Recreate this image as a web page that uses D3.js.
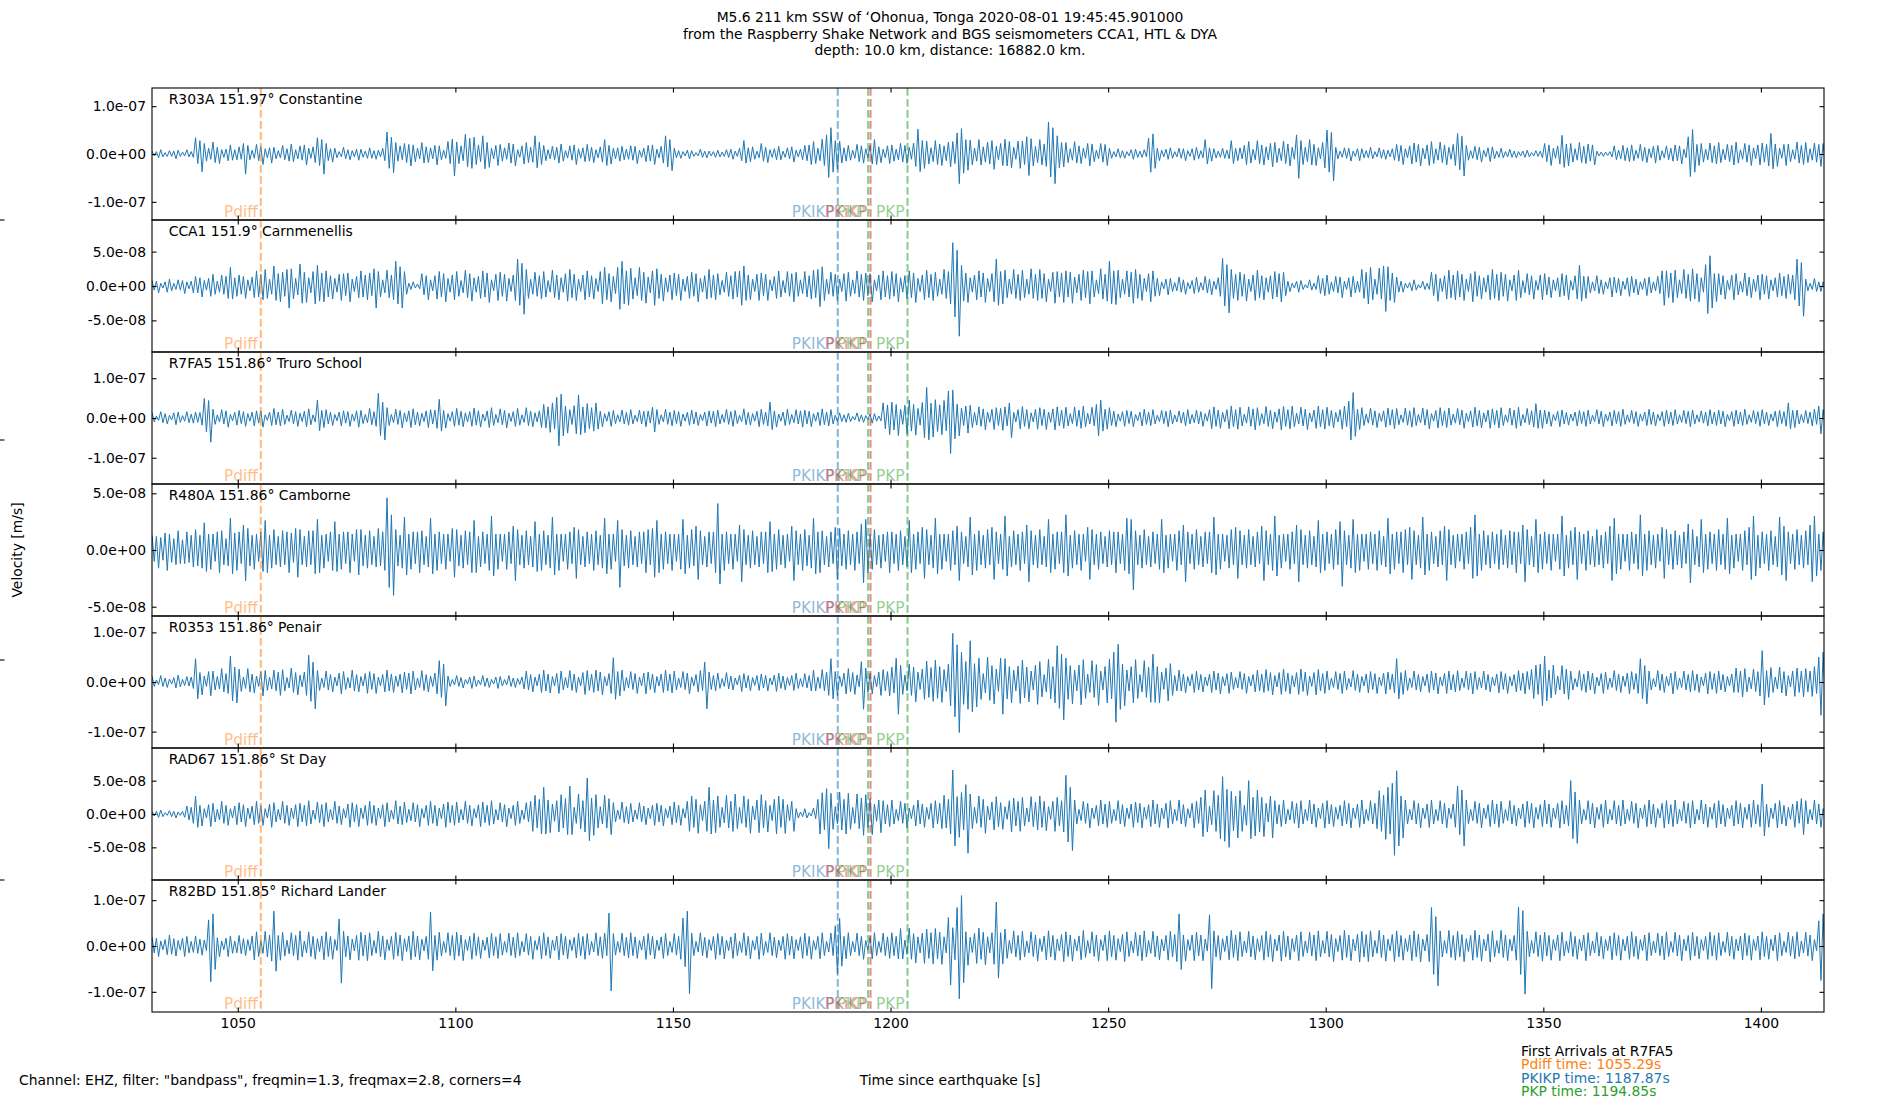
<!DOCTYPE html>
<html>
<head>
<meta charset="utf-8">
<script src="https://cdn.jsdelivr.net/npm/d3@7"></script>
<style>
  body { margin: 0; background: #fff; }
  text { font-family: "DejaVu Sans", sans-serif; }
</style>
</head>
<body>
<svg id="chart"></svg>
<script>
////////// Data
var timeWindow = [1030.29, 1414.5];            // s since earthquake
var xTicks = [1050, 1100, 1150, 1200, 1250, 1300, 1350, 1400];

var stationCodes = ["R303A", "CCA1", "R7FA5", "R480A", "R0353", "RAD67", "R82BD"];
var stationDist  = ["151.97°", "151.9°", "151.86°", "151.86°", "151.86°", "151.86°", "151.85°"];
var stationNames = ["Constantine", "Carnmenellis", "Truro School", "Camborne", "Penair", "St Day", "Richard Lander"];
var yLimit    = [1.38e-7, 9.6e-8, 1.66e-7, 5.82e-8, 1.33e-7, 9.9e-8, 1.44e-7];
var yTickStep = [1e-7, 5e-8, 1e-7, 5e-8, 1e-7, 5e-8, 1e-7];

var phaseNames = ["Pdiff", "PKIKP", "PKiKP", "PKP", "PKP"];
var phaseTimes = [1055.29, 1187.87, 1195.4, 1194.85, 1203.9];

var arrivalStation = "R7FA5";
var arrivalNames = ["Pdiff", "PKIKP", "PKP"];
var arrivalTimes = [1055.29, 1187.87, 1194.85];

// traces: successive up/down peaks, every half second, in nm/s (one line = 10 s)
var sampleStart = 1030.3, sampleStep = 0.5, ampUnit = 1e-9;

var traceR303A = [
6,-4,5,-8,9,-6,3,-5,7,-5,6,-10,8,-5,4,-4,9,-6,5,-7,
34,-20,28,-37,22,-15,12,-11,25,-18,14,-20,9,-7,10,-14,19,-13,9,-12,
15,-11,22,-42,18,-12,8,-9,20,-14,16,-22,11,-8,13,-19,14,-10,7,-8,
18,-12,11,-15,21,-16,9,-10,17,-13,19,-23,12,-9,15,-18,34,-24,30,-42,
22,-14,11,-17,12,-8,5,-6,14,-10,9,-12,7,-6,10,-13,10,-7,6,-9,
13,-9,7,-11,8,-6,12,-14,46,-30,35,-39,24,-15,17,-12,22,-18,20,-25,
19,-16,12,-10,24,-19,15,-18,13,-10,18,-23,17,-12,8,-9,26,-20,31,-46,
25,-20,17,-14,41,-27,33,-30,35,-22,19,-16,38,-31,24,-28,12,-10,18,-24,
20,-15,13,-11,23,-19,21,-25,9,-7,17,-21,24,-18,14,-17,38,-29,25,-22,
18,-14,9,-10,16,-12,14,-19,21,-15,7,-8,17,-13,19,-22,11,-9,13,-16,
20,-15,14,-18,9,-8,15,-17,30,-24,18,-21,12,-10,13,-15,16,-12,10,-11,
17,-13,16,-20,8,-7,12,-16,18,-15,19,-22,10,-8,16,-19,38,-27,30,-35,
12,-8,7,-9,5,-4,8,-10,7,-5,3,-4,10,-7,6,-8,6,-4,5,-7,
8,-6,4,-5,9,-7,10,-11,6,-5,12,-14,28,-19,13,-16,15,-11,6,-8,
22,-15,14,-18,9,-7,11,-12,16,-12,6,-7,13,-10,15,-17,8,-6,10,-12,
18,-14,19,-22,26,-20,12,-14,31,-24,40,-49,55,-38,28,-32,27,-19,13,-15,
18,-13,8,-9,20,-16,17,-19,11,-8,18,-21,30,-22,15,-18,10,-8,17,-20,
19,-15,10,-12,22,-17,18,-20,14,-11,23,-26,52,-37,28,-30,27,-21,13,-16,
28,-22,21,-24,17,-14,25,-27,26,-20,44,-62,53,-40,30,-34,29,-23,12,-15,
30,-23,15,-17,25,-21,28,-32,16,-12,22,-24,31,-25,26,-29,14,-11,27,-30,
27,-22,36,-45,32,-25,16,-18,30,-23,21,-26,67,-48,55,-62,38,-29,24,-27,
24,-18,11,-13,26,-19,17,-20,12,-9,22,-25,21,-16,8,-10,22,-17,20,-24,
12,-9,5,-6,11,-8,7,-9,5,-4,9,-11,10,-7,6,-7,9,-6,33,-38,
42,-30,12,-14,8,-6,10,-11,13,-9,5,-6,12,-9,11,-14,7,-5,11,-13,
14,-10,7,-8,30,-21,13,-15,11,-8,6,-7,12,-9,8,-10,28,-20,12,-14,
13,-10,18,-22,26,-19,10,-12,28,-20,19,-23,15,-12,22,-27,24,-18,12,-14,
27,-20,21,-25,14,-11,40,-51,28,-22,14,-16,30,-23,20,-24,13,-10,24,-29,
50,-38,45,-56,14,-10,6,-7,13,-9,12,-15,6,-5,11,-14,11,-8,7,-8,
14,-10,5,-6,13,-9,9,-11,8,-6,11,-13,20,-15,18,-22,11,-8,17,-21,
23,-17,20,-25,12,-10,19,-24,26,-20,11,-13,25,-18,19,-23,14,-11,20,-24,
43,-33,37,-46,18,-13,7,-9,16,-12,14,-17,8,-6,13,-16,15,-10,6,-7,
12,-8,5,-6,10,-7,6,-8,5,-4,6,-7,8,-6,3,-4,7,-5,6,-8,
22,-16,19,-24,12,-9,17,-21,39,-28,21,-25,22,-17,11,-13,24,-18,16,-20,
21,-15,19,-23,6,-4,4,-5,4,-3,5,-6,17,-12,8,-10,18,-14,13,-16,
19,-14,8,-9,20,-15,14,-18,11,-8,16,-19,18,-13,7,-8,17,-12,12,-15,
19,-14,17,-21,10,-8,36,-47,51,-38,20,-24,22,-17,10,-12,23,-18,17,-21,
24,-18,10,-12,20,-16,18,-23,25,-19,9,-11,22,-17,19,-24,13,-10,19,-23,
23,-17,20,-25,43,-31,21,-26,12,-9,20,-24,21,-16,9,-11,25,-19,18,-22,
24,-18,11,-13,23,-17,20,-26,22,-16];

var traceCCA1 = [
8,-6,7,-10,4,-3,6,-9,10,-7,4,-5,9,-6,8,-11,6,-4,7,-10,
14,-10,12,-16,8,-6,11,-15,17,-12,7,-9,16,-12,14,-18,27,-19,12,-15,
16,-12,14,-18,9,-7,13,-17,22,-16,17,-20,24,-18,10,-12,29,-21,18,-23,
20,-15,24,-32,25,-19,11,-13,32,-25,20,-24,12,-10,21,-26,30,-22,19,-23,
22,-16,15,-19,11,-9,17,-21,18,-14,19,-23,10,-8,14,-17,22,-16,16,-20,
19,-14,25,-32,21,-16,9,-10,23,-17,16,-20,36,-26,28,-32,21,-12,4,-5,
6,-3,3,-4,18,-13,15,-20,9,-7,15,-19,21,-16,18,-23,11,-9,16,-20,
21,-15,8,-10,23,-17,18,-22,12,-9,14,-18,22,-16,19,-24,9,-7,17,-21,
20,-15,17,-22,11,-8,16,-21,39,-28,33,-41,24,-18,10,-12,20,-15,15,-19,
21,-16,8,-9,23,-17,16,-20,12,-9,18,-22,24,-17,17,-21,10,-8,16,-20,
22,-16,15,-19,11,-8,21,-26,27,-20,18,-23,14,-11,27,-34,36,-26,22,-28,
26,-19,12,-14,27,-21,20,-25,13,-10,22,-28,25,-18,17,-22,12,-9,16,-20,
19,-14,17,-21,10,-8,14,-18,20,-15,18,-23,11,-9,15,-19,24,-17,16,-20,
18,-13,8,-9,20,-15,15,-19,21,-16,22,-28,29,-21,16,-20,10,-8,17,-21,
19,-14,17,-21,9,-7,14,-18,22,-16,8,-10,21,-15,18,-23,20,-15,9,-11,
21,-16,15,-19,23,-17,24,-30,28,-21,10,-12,20,-15,17,-21,10,-8,18,-22,
20,-15,9,-11,22,-16,17,-21,19,-14,18,-23,9,-7,16,-20,22,-16,15,-19,
21,-15,18,-23,12,-9,15,-19,22,-17,19,-24,11,-8,16,-20,23,-17,17,-21,
20,-15,10,-12,24,-18,21,-26,63,-45,52,-73,30,-22,19,-24,12,-9,16,-20,
22,-16,19,-24,11,-8,18,-23,39,-28,21,-26,23,-17,10,-12,24,-18,17,-21,
23,-17,10,-12,25,-18,17,-21,24,-18,18,-23,10,-8,20,-25,21,-16,19,-24,
22,-16,20,-25,13,-10,17,-21,23,-17,21,-26,22,-16,9,-11,25,-19,17,-22,
36,-26,22,-27,23,-17,10,-12,22,-16,20,-25,24,-18,17,-21,11,-8,18,-23,
22,-15,11,-14,6,-4,10,-13,11,-8,5,-7,13,-9,9,-12,5,-4,8,-11,
13,-9,5,-6,14,-10,10,-13,7,-5,12,-15,40,-29,31,-39,24,-18,17,-21,
20,-15,17,-22,10,-8,16,-21,23,-17,15,-20,12,-9,15,-19,21,-16,18,-23,
20,-14,7,-8,4,-3,7,-9,8,-5,2,-3,9,-6,4,-5,15,-11,11,-14,
16,-12,6,-8,14,-10,13,-17,7,-5,12,-16,14,-10,7,-9,24,-18,20,-26,
27,-20,10,-12,26,-19,29,-37,28,-21,19,-24,13,-9,7,-9,4,-3,5,-7,
9,-6,2,-3,7,-5,4,-5,20,-14,17,-22,11,-8,15,-19,23,-17,16,-20,
22,-16,17,-21,10,-8,18,-23,21,-15,15,-19,12,-9,16,-20,24,-18,17,-21,
20,-15,17,-22,9,-7,16,-21,23,-17,8,-10,18,-13,15,-19,8,-6,16,-20,
18,-13,13,-17,9,-7,12,-16,18,-14,16,-20,8,-6,15,-19,30,-22,14,-18,
14,-10,6,-7,15,-11,9,-12,6,-4,12,-16,13,-10,11,-14,7,-5,12,-15,
14,-10,10,-13,6,-5,11,-14,13,-10,6,-7,14,-11,22,-28,22,-17,19,-24,
23,-17,9,-11,24,-18,17,-22,25,-19,18,-23,12,-9,31,-40,44,-32,18,-23,
18,-13,15,-19,8,-6,16,-20,18,-13,7,-9,19,-14,13,-17,10,-8,16,-20,
17,-12,15,-19,9,-7,12,-16,19,-14,14,-18,17,-12,16,-20,39,-29,34,-44,
10,-7,4,-5,11,-8,6,-8,6,-4];

var traceR7FA5 = [
14,-10,5,-6,16,-12,11,-15,7,-5,13,-17,15,-11,6,-8,16,-12,10,-13,
15,-11,14,-18,49,-35,44,-61,22,-16,8,-10,21,-15,18,-23,9,-7,14,-18,
19,-14,16,-21,11,-8,15,-20,18,-13,18,-23,8,-6,15,-19,24,-17,15,-20,
22,-16,7,-9,20,-15,16,-21,12,-9,17,-22,23,-17,8,-10,45,-32,19,-24,
21,-15,15,-19,9,-7,15,-20,18,-13,16,-21,10,-8,18,-23,19,-14,9,-12,
24,-17,16,-21,62,-44,40,-55,26,-19,9,-12,22,-16,19,-25,13,-10,18,-24,
23,-17,15,-20,12,-9,18,-24,21,-15,20,-26,47,-33,19,-25,11,-8,16,-21,
24,-18,17,-22,13,-10,16,-21,25,-18,18,-23,10,-8,18,-24,26,-19,9,-12,
23,-17,19,-25,12,-9,16,-21,24,-18,8,-11,26,-19,17,-22,13,-10,18,-24,
34,-25,28,-36,38,-28,52,-70,60,-45,30,-38,21,-16,31,-40,58,-42,28,-37,
36,-27,26,-33,38,-28,17,-22,11,-8,16,-21,19,-14,8,-10,20,-15,14,-18,
21,-15,7,-9,20,-15,17,-22,18,-13,27,-35,21,-16,8,-10,22,-16,15,-20,
19,-14,16,-21,10,-8,14,-18,20,-15,15,-19,9,-7,15,-20,18,-13,17,-22,
20,-15,9,-11,22,-16,16,-21,19,-14,7,-9,23,-17,14,-18,11,-8,17,-22,
22,-16,15,-20,40,-29,18,-23,10,-8,15,-19,22,-16,9,-12,21,-15,18,-23,
20,-15,17,-22,11,-8,15,-19,23,-17,15,-20,21,-15,7,-9,13,-9,8,-11,
12,-9,4,-5,13,-9,8,-11,6,-4,10,-13,11,-8,5,-7,38,-27,33,-42,
40,-30,34,-44,22,-16,32,-41,45,-33,34,-43,24,-18,39,-50,77,-55,37,-48,
46,-34,33,-42,44,-32,68,-89,70,-52,35,-45,25,-19,30,-38,32,-24,14,-18,
28,-21,23,-30,15,-11,22,-29,26,-19,24,-31,28,-20,38,-50,14,-10,21,-27,
29,-21,21,-27,13,-10,22,-28,26,-19,22,-29,15,-11,23,-30,28,-20,20,-26,
27,-20,11,-14,28,-21,20,-26,30,-22,12,-15,27,-20,34,-45,45,-33,22,-28,
26,-19,17,-22,10,-8,16,-21,19,-14,17,-22,9,-7,15,-20,22,-16,15,-19,
21,-15,7,-9,19,-14,17,-22,20,-15,8,-10,18,-13,15,-20,21,-15,9,-12,
20,-15,16,-21,11,-8,21,-27,28,-21,20,-26,14,-10,21,-27,30,-22,21,-28,
27,-20,10,-13,28,-21,23,-30,26,-19,11,-14,29,-21,20,-27,15,-11,23,-30,
29,-21,21,-27,30,-22,12,-15,27,-20,22,-29,13,-10,20,-26,30,-22,21,-28,
27,-20,19,-25,14,-10,21,-28,30,-22,42,-55,64,-46,22,-29,26,-19,10,-13,
25,-18,18,-24,12,-9,18,-23,25,-18,21,-27,24,-17,8,-11,25,-18,18,-23,
26,-19,9,-12,25,-18,21,-27,11,-8,19,-25,26,-19,18,-24,25,-18,10,-13,
24,-17,20,-26,12,-9,18,-23,27,-20,19,-25,13,-10,20,-26,23,-17,19,-25,
26,-19,8,-11,25,-18,20,-26,27,-20,9,-12,24,-17,18,-23,36,-26,20,-26,
20,-15,16,-21,9,-7,17,-22,20,-15,14,-18,10,-8,15,-20,19,-14,16,-21,
20,-15,7,-9,21,-15,17,-22,10,-8,15,-20,19,-14,16,-21,22,-16,8,-11,
19,-14,16,-21,10,-8,15,-19,22,-16,15,-20,9,-7,16,-21,20,-15,15,-19,
21,-15,8,-11,19,-14,17,-22,20,-15,8,-10,18,-13,15,-20,21,-15,15,-19,
20,-15,17,-22,9,-7,16,-21,20,-15,15,-19,22,-16,8,-11,19,-14,16,-21,
21,-15,15,-19,10,-8,17,-22,19,-14,16,-21,38,-27,19,-24,20,-15,9,-12,
19,-14,15,-20,22,-16,30,-40,21,-15];

var traceR480A = [
13,-10,12,-16,11,-9,15,-18,14,-11,10,-13,17,-12,9,-12,16,-11,13,-15,
18,-14,13,-16,24,-19,14,-17,14,-10,16,-20,17,-13,10,-14,28,-21,15,-18,
16,-12,22,-27,19,-14,13,-17,14,-10,16,-19,26,-20,13,-16,18,-13,12,-15,
17,-13,16,-20,15,-11,19,-24,18,-13,12,-15,17,-13,17,-21,27,-20,13,-16,
14,-10,16,-18,25,-19,14,-17,16,-12,16,-20,14,-10,18,-22,18,-14,13,-16,
17,-13,12,-15,19,-14,16,-18,46,-33,31,-40,18,-14,13,-16,29,-22,14,-17,
16,-12,16,-20,17,-13,12,-15,28,-21,14,-18,16,-12,14,-17,14,-10,19,-24,
18,-14,13,-16,17,-13,16,-20,26,-20,12,-15,16,-12,14,-18,30,-23,14,-17,
14,-10,14,-17,16,-12,21,-27,18,-13,13,-16,17,-13,12,-15,25,-19,14,-18,
17,-13,13,-16,29,-22,14,-18,14,-10,14,-17,16,-12,20,-25,18,-13,12,-15,
16,-12,14,-18,17,-13,13,-16,28,-21,14,-17,14,-10,26,-33,18,-14,13,-16,
17,-13,12,-15,16,-12,16,-20,18,-13,19,-24,26,-20,14,-17,16,-12,14,-18,
14,-10,14,-17,27,-21,13,-16,18,-14,21,-26,17,-13,12,-15,16,-12,16,-20,
41,-30,14,-18,16,-12,14,-17,14,-10,22,-28,18,-13,13,-16,17,-13,12,-15,
16,-12,16,-20,25,-19,14,-17,18,-13,13,-16,14,-10,21,-27,17,-13,14,-18,
18,-14,13,-16,28,-21,16,-20,17,-13,12,-15,16,-12,20,-26,19,-14,14,-17,
17,-13,14,-18,16,-12,23,-29,27,-20,14,-17,18,-13,13,-16,14,-10,16,-20,
16,-12,14,-18,17,-13,12,-15,26,-20,14,-17,16,-12,20,-25,18,-13,13,-16,
28,-21,14,-17,14,-10,14,-18,17,-13,21,-27,16,-12,12,-15,29,-22,14,-18,
17,-13,13,-16,18,-13,20,-26,16,-12,14,-17,30,-23,12,-15,17,-13,14,-18,
16,-12,22,-28,17,-13,13,-16,18,-13,12,-15,27,-20,14,-17,16,-12,16,-20,
31,-23,13,-16,17,-13,14,-18,14,-10,20,-26,18,-13,14,-17,16,-12,12,-15,
17,-13,16,-20,16,-12,14,-18,28,-21,27,-35,17,-13,13,-16,18,-13,12,-15,
16,-12,14,-17,27,-20,13,-16,14,-10,14,-18,17,-13,22,-28,16,-12,14,-17,
18,-13,12,-15,16,-12,16,-20,29,-22,14,-17,14,-10,13,-16,18,-13,20,-25,
17,-13,13,-16,18,-13,12,-15,16,-12,21,-27,17,-13,14,-18,30,-23,13,-16,
14,-10,14,-17,16,-12,22,-28,18,-13,13,-16,17,-13,12,-15,26,-20,14,-18,
16,-12,14,-17,18,-13,25,-32,17,-13,13,-16,27,-20,14,-18,14,-10,14,-17,
16,-12,14,-18,17,-13,12,-15,28,-21,14,-17,16,-12,16,-20,18,-13,20,-26,
17,-13,13,-16,29,-22,14,-18,16,-12,12,-15,17,-13,21,-27,18,-13,13,-16,
14,-10,14,-17,16,-12,20,-25,31,-23,14,-18,17,-13,13,-16,16,-12,14,-17,
18,-13,13,-16,17,-13,16,-20,16,-12,22,-28,18,-13,12,-15,27,-20,14,-17,
16,-12,14,-18,14,-10,14,-17,30,-23,13,-16,17,-13,20,-26,16,-12,14,-18,
17,-13,12,-15,18,-13,13,-16,16,-12,21,-27,28,-21,14,-17,14,-10,14,-18,
16,-12,14,-17,31,-23,14,-18,17,-13,13,-16,14,-10,20,-25,18,-13,14,-17,
17,-13,13,-16,16,-12,23,-29,18,-13,12,-15,27,-20,14,-17,16,-12,14,-18,
18,-13,14,-17,28,-21,13,-16,14,-10,14,-18,17,-13,20,-26,30,-23,13,-16,
16,-12,14,-18,17,-13,12,-15,29,-22,21,-27,16,-12,14,-17,18,-13,13,-16,
17,-13,22,-28,30,-23,14,-18,16,-12];

var traceR0353 = [
12,-9,4,-5,13,-9,8,-11,6,-4,9,-12,14,-10,5,-7,11,-8,10,-13,
47,-34,19,-26,12,-9,21,-28,22,-16,11,-14,27,-20,17,-23,52,-38,30,-42,
26,-19,10,-13,27,-20,16,-22,12,-9,21,-28,23,-17,10,-14,24,-18,20,-27,
25,-18,9,-12,28,-21,19,-26,14,-10,20,-27,54,-39,40,-54,23,-17,8,-11,
22,-16,15,-20,10,-8,18,-24,21,-15,9,-12,24,-18,15,-20,11,-8,17,-23,
21,-15,17,-23,10,-8,15,-20,24,-18,16,-21,12,-9,16,-22,20,-15,18,-24,
22,-16,8,-11,23,-17,15,-20,12,-9,18,-24,43,-31,36,-48,12,-9,5,-6,
13,-9,9,-12,5,-4,10,-13,12,-9,4,-6,13,-9,8,-11,5,-4,10,-13,
11,-8,5,-6,13,-9,8,-11,7,-5,10,-14,22,-16,15,-20,10,-8,16,-21,
24,-18,16,-22,11,-8,17,-23,22,-16,9,-12,23,-17,16,-21,10,-8,19,-25,
23,-17,16,-21,24,-18,20,-26,11,-8,17,-23,49,-35,21,-28,24,-18,9,-12,
21,-15,17,-23,10,-8,18,-24,20,-15,16,-22,11,-8,16,-21,24,-18,16,-22,
22,-16,8,-11,21,-15,18,-24,10,-8,15,-20,23,-17,40,-54,20,-15,13,-18,
18,-13,7,-9,19,-14,12,-16,8,-6,14,-19,17,-12,13,-18,9,-7,13,-17,
16,-12,13,-18,8,-6,14,-19,18,-13,12,-16,9,-7,13,-17,18,-13,7,-10,
17,-12,13,-18,24,-18,10,-13,25,-18,20,-27,47,-34,21,-28,12,-9,18,-24,
27,-20,19,-25,14,-10,41,-55,28,-21,18,-24,13,-10,20,-27,25,-18,21,-28,
30,-22,48,-65,34,-25,14,-18,36,-27,30,-40,20,-15,26,-35,42,-31,29,-39,
44,-33,31,-41,25,-19,36,-48,98,-70,75,-102,60,-45,41,-55,83,-60,37,-50,
48,-35,17,-22,50,-37,33,-44,26,-19,48,-65,47,-34,31,-42,24,-18,32,-43,
44,-32,30,-40,22,-16,34,-45,41,-30,15,-20,46,-34,31,-42,73,-53,56,-76,
48,-35,33,-44,24,-18,34,-46,45,-33,16,-21,43,-31,35,-47,22,-16,31,-42,
46,-34,60,-81,76,-55,36,-48,24,-18,31,-42,45,-33,15,-20,43,-31,30,-41,
56,-41,31,-42,20,-15,28,-38,37,-27,13,-18,24,-18,16,-22,11,-8,16,-21,
22,-16,15,-20,10,-8,16,-21,22,-16,18,-24,11,-8,17,-23,20,-15,9,-12,
21,-15,17,-23,11,-8,15,-20,24,-18,16,-21,25,-18,19,-26,13,-10,19,-25,
26,-19,18,-24,13,-10,19,-25,26,-19,20,-27,12,-9,19,-26,25,-18,17,-23,
22,-16,8,-11,21,-15,17,-23,22,-16,7,-10,23,-17,16,-21,11,-8,16,-22,
21,-15,17,-23,10,-8,18,-24,20,-15,16,-22,47,-34,19,-25,23,-17,8,-11,
22,-16,15,-20,11,-8,16,-21,22,-16,18,-24,10,-8,17,-23,22,-16,15,-20,
23,-17,8,-11,22,-16,18,-24,21,-15,9,-12,22,-16,15,-20,10,-8,16,-22,
21,-15,17,-23,11,-8,15,-20,23,-17,18,-24,21,-15,25,-33,34,-25,36,-48,
52,-38,24,-32,34,-25,12,-16,33,-24,26,-35,22,-16,7,-10,23,-17,16,-21,
22,-16,18,-24,10,-8,17,-23,20,-15,8,-11,23,-17,16,-21,12,-9,18,-24,
21,-15,17,-23,47,-34,33,-44,22,-16,7,-10,23,-17,16,-21,11,-8,18,-24,
21,-15,8,-11,22,-16,15,-20,23,-17,16,-21,10,-8,18,-24,21,-15,17,-23,
22,-16,15,-20,11,-8,16,-21,28,-21,22,-30,27,-20,10,-14,26,-19,21,-28,
63,-46,23,-31,29,-21,10,-14,30,-22,21,-28,13,-10,22,-29,28,-21,22,-30,
27,-20,22,-29,31,-23,50,-67,60,-44];

var traceRAD67 = [
4,-3,4,-5,6,-4,2,-2,5,-4,4,-6,3,-2,4,-5,12,-9,10,-14,
27,-20,13,-18,8,-6,14,-19,16,-12,7,-9,19,-14,13,-17,8,-6,12,-16,
17,-12,14,-19,9,-7,12,-16,19,-14,13,-17,8,-6,15,-20,17,-12,7,-9,
19,-14,13,-17,9,-7,14,-19,16,-12,13,-18,20,-15,6,-8,18,-13,14,-19,
17,-12,7,-9,19,-14,12,-16,8,-6,15,-20,17,-12,14,-19,9,-7,13,-17,
19,-14,13,-17,9,-7,14,-19,17,-12,6,-8,20,-15,12,-16,18,-13,7,-10,
17,-12,14,-19,8,-6,13,-17,19,-14,13,-18,9,-7,15,-20,18,-13,13,-17,
18,-13,7,-9,19,-14,13,-18,8,-6,14,-19,18,-13,13,-17,20,-15,7,-9,
17,-12,14,-19,9,-7,13,-17,19,-14,6,-8,17,-12,19,-26,28,-21,22,-30,
40,-30,21,-28,15,-11,20,-27,29,-21,23,-31,42,-31,10,-14,30,-22,20,-27,
54,-40,24,-32,29,-21,11,-15,28,-21,23,-31,17,-12,6,-8,18,-13,11,-15,
16,-12,6,-8,17,-12,12,-16,9,-7,13,-17,16,-12,13,-18,8,-6,12,-16,
18,-13,13,-17,8,-6,19,-26,27,-20,22,-29,14,-10,19,-26,40,-30,21,-28,
27,-20,10,-13,28,-21,19,-26,30,-22,10,-14,27,-20,22,-29,12,-9,21,-28,
29,-21,20,-27,13,-10,22,-30,27,-20,22,-29,14,-10,19,-26,8,-6,3,-4,
8,-6,2,-3,9,-7,22,-30,32,-24,38,-52,31,-23,11,-15,33,-24,22,-30,
31,-23,10,-14,30,-22,24,-32,29,-21,23,-31,15,-11,21,-28,20,-15,14,-19,
21,-15,7,-10,19,-14,16,-21,9,-7,13,-18,21,-15,15,-20,10,-8,16,-21,
20,-15,16,-22,28,-21,22,-30,66,-48,26,-35,32,-24,44,-59,30,-22,10,-14,
27,-20,22,-29,12,-9,18,-24,26,-19,17,-23,11,-8,20,-27,24,-18,19,-26,
25,-18,9,-12,26,-19,18,-24,27,-20,19,-25,11,-8,19,-26,25,-18,20,-27,
58,-42,40,-55,21,-15,7,-10,19,-14,16,-21,9,-7,13,-18,21,-15,15,-20,
19,-14,7,-10,20,-15,14,-19,9,-7,15,-20,18,-13,16,-21,10,-8,14,-19,
21,-15,15,-20,9,-7,16,-21,20,-15,7,-10,21,-15,14,-19,8,-6,16,-21,
19,-14,25,-34,36,-27,12,-16,35,-26,28,-37,56,-41,37,-50,34,-25,27,-36,
35,-26,13,-17,50,-37,25,-33,36,-27,25,-34,16,-12,27,-36,20,-15,14,-19,
21,-15,7,-9,19,-14,16,-21,20,-15,7,-10,21,-15,15,-20,9,-7,16,-21,
20,-15,14,-19,10,-8,13,-18,20,-15,16,-21,9,-7,15,-20,21,-15,7,-10,
20,-15,16,-22,35,-26,28,-38,40,-30,46,-62,65,-48,27,-36,21,-15,7,-9,
20,-15,16,-21,9,-7,15,-20,21,-15,7,-10,20,-15,16,-21,9,-7,15,-20,
42,-31,36,-48,21,-15,7,-10,19,-14,16,-21,9,-7,14,-19,21,-15,15,-20,
19,-14,7,-10,20,-15,13,-18,9,-7,15,-20,19,-14,16,-21,10,-8,14,-19,
21,-15,15,-20,9,-7,16,-21,20,-15,13,-18,50,-37,33,-44,21,-15,7,-9,
20,-15,16,-21,10,-8,15,-20,21,-15,7,-9,20,-15,13,-18,21,-15,7,-10,
19,-14,16,-21,9,-7,14,-19,21,-15,15,-20,8,-6,16,-21,20,-15,14,-19,
21,-15,7,-10,19,-14,16,-21,20,-15,7,-9,21,-15,15,-20,10,-8,16,-21,
20,-15,14,-19,9,-7,13,-18,20,-15,16,-21,10,-8,15,-20,21,-15,14,-19,
45,-33,15,-20,9,-7,16,-21,20,-15,13,-18,10,-8,15,-20,19,-14,23,-31,
20,-15,7,-9,21,-15,15,-20,8,-6];

var traceR82BD = [
20,-15,17,-23,11,-8,14,-19,24,-18,16,-22,12,-9,17,-23,21,-15,10,-14,
22,-16,15,-20,13,-10,57,-78,70,-51,18,-24,11,-8,17,-23,22,-16,11,-15,
23,-17,16,-21,14,-10,22,-30,31,-23,12,-16,32,-24,24,-33,76,-55,23,-31,
30,-22,13,-17,29,-21,23,-31,33,-24,11,-15,31,-23,21,-29,16,-12,22,-30,
31,-23,21,-29,14,-10,59,-81,32,-24,22,-30,15,-11,23,-31,30,-22,24,-32,
29,-21,12,-16,32,-24,22,-30,14,-10,21,-29,30,-22,24,-32,16,-12,22,-30,
32,-24,22,-30,15,-11,21,-29,74,-54,23,-31,30,-22,10,-14,29,-21,23,-31,
30,-22,24,-32,14,-10,21,-29,28,-21,20,-27,13,-10,19,-26,28,-21,20,-27,
27,-20,10,-14,28,-21,19,-26,29,-21,10,-13,27,-20,21,-29,12,-9,21,-28,
29,-21,20,-27,13,-10,22,-30,27,-20,21,-28,14,-10,19,-26,28,-21,21,-29,
27,-20,10,-13,29,-21,20,-27,28,-21,72,-98,27,-20,10,-14,28,-21,19,-26,
29,-21,20,-27,12,-9,21,-29,27,-20,21,-28,13,-10,20,-27,28,-21,10,-14,
27,-20,21,-29,61,-45,76,-104,28,-21,10,-13,29,-21,19,-26,14,-10,21,-29,
27,-20,21,-28,13,-10,20,-27,28,-21,10,-14,29,-21,21,-28,12,-9,21,-29,
28,-21,10,-14,29,-21,19,-26,13,-10,21,-29,27,-20,21,-28,14,-10,20,-27,
28,-21,21,-29,12,-9,21,-28,29,-21,10,-13,28,-21,44,-60,60,-44,21,-28,
29,-21,10,-13,28,-21,21,-29,12,-9,21,-28,29,-21,10,-14,28,-21,20,-27,
29,-21,21,-28,38,-28,13,-18,39,-29,27,-37,20,-15,28,-38,37,-27,29,-39,
38,-28,30,-40,20,-15,62,-85,40,-30,84,-115,110,-80,31,-42,19,-14,28,-38,
39,-29,30,-41,20,-15,29,-40,96,-70,29,-39,37,-27,12,-16,33,-24,23,-31,
32,-24,11,-15,31,-23,24,-33,16,-12,22,-30,33,-24,23,-31,15,-11,25,-34,
31,-23,24,-33,15,-11,22,-30,34,-25,12,-16,31,-23,24,-33,14,-10,24,-32,
33,-24,23,-31,16,-12,25,-34,31,-23,11,-15,30,-22,24,-32,33,-24,12,-16,
32,-24,22,-30,15,-11,23,-31,32,-24,25,-34,70,-51,24,-33,14,-10,24,-32,
30,-22,24,-32,15,-11,68,-93,33,-24,23,-31,16,-12,22,-30,34,-25,24,-32,
31,-23,11,-15,32,-24,22,-30,16,-12,23,-31,32,-24,25,-34,15,-11,24,-33,
32,-24,22,-30,16,-12,24,-32,31,-23,11,-15,30,-22,24,-32,33,-24,12,-16,
32,-24,25,-34,16,-12,23,-31,34,-25,24,-32,15,-11,26,-35,32,-24,25,-34,
33,-24,12,-16,34,-25,24,-33,15,-11,25,-34,33,-24,23,-31,16,-12,24,-32,
33,-24,26,-35,15,-11,25,-34,84,-62,64,-87,33,-24,12,-16,34,-25,23,-31,
32,-24,25,-34,16,-12,23,-31,34,-25,24,-33,15,-11,26,-35,33,-24,12,-16,
34,-25,24,-32,15,-11,23,-31,85,-62,77,-105,32,-24,12,-16,31,-23,24,-33,
30,-22,23,-31,14,-10,24,-32,30,-22,11,-15,31,-23,21,-29,15,-11,24,-32,
29,-21,11,-15,30,-22,21,-28,14,-10,22,-30,29,-21,23,-31,15,-11,21,-29,
31,-23,21,-29,14,-10,24,-32,29,-21,11,-15,28,-21,22,-30,31,-23,10,-14,
30,-22,24,-32,15,-11,23,-31,30,-22,21,-28,14,-10,21,-29,30,-22,23,-31,
29,-21,10,-14,30,-22,21,-29,15,-11,22,-30,28,-21,23,-31,14,-10,22,-30,
31,-23,21,-29,15,-11,24,-32,29,-21,10,-14,30,-22,21,-28,31,-23,11,-15,
30,-22,24,-32,14,-10,55,-75,70,-51];

var traces = [traceR303A, traceCCA1, traceR7FA5, traceR480A, traceR0353, traceRAD67, traceR82BD];

////////// Styles
var phaseColour = { "Pdiff": "#ff7f0e", "PKIKP": "#1f77b4", "PKiKP": "#d62728", "PKP": "#2ca02c" };
var traceColour = "#1f77b4";
var fontSize = 13.9;

var W = 1900, H = 1100;
var margin = { left: 152, right: 76, top: 88, bottom: 88 };
var nPanels = traces.length;
var panelH = (H - margin.top - margin.bottom) / nPanels;

var svg = d3.select("#chart").attr("width", W).attr("height", H);

var x = d3.scaleLinear().domain(timeWindow).range([margin.left, W - margin.right]);

// "%.1e" like matplotlib
function sci(v) {
  return v.toExponential(1).replace(/e([+-])(\d)$/, "e$10$2");
}

function styleAxis(g) {
  g.select(".domain").remove();
  g.attr("font-family", null).attr("font-size", null);
  g.selectAll(".tick line").attr("stroke", "#000").attr("stroke-width", 1.1);
  g.selectAll(".tick text").attr("fill", "#000")
    .style("font-size", fontSize + "px").style("font-family", "'DejaVu Sans', sans-serif");
}

for (var i = 0; i < nPanels; i++) {
  var pTop = margin.top + i * panelH;
  var pBottom = pTop + panelH;
  var y = d3.scaleLinear().domain([-yLimit[i], yLimit[i]]).range([pBottom, pTop]);
  var panel = svg.append("g");

  panel.append("clipPath").attr("id", "clip" + i)
    .append("rect")
    .attr("x", margin.left).attr("y", pTop)
    .attr("width", W - margin.left - margin.right).attr("height", panelH);

  /*
   * waveform
   */
  var line = d3.line()
    .x(function(d, j) { return x(sampleStart + j * sampleStep); })
    .y(function(d) { return y(d * ampUnit); });

  panel.append("path")
    .datum(traces[i])
    .attr("clip-path", "url(#clip" + i + ")")
    .attr("fill", "none")
    .attr("stroke", traceColour)
    .attr("stroke-width", 1)
    .attr("stroke-linejoin", "round")
    .attr("d", line);

  /*
   * phase arrivals
   */
  phaseNames.forEach(function(p, k) {
    panel.append("line")
      .attr("x1", x(phaseTimes[k])).attr("x2", x(phaseTimes[k]))
      .attr("y1", pTop).attr("y2", pBottom)
      .attr("stroke", phaseColour[p])
      .attr("stroke-width", 2)
      .attr("stroke-dasharray", "7.7,3.3")
      .attr("opacity", 0.55);
  });
  phaseNames.forEach(function(p, k) {
    panel.append("text")
      .attr("x", x(phaseTimes[k]) - 3)
      .attr("y", pBottom - 3.5)
      .attr("text-anchor", "end")
      .attr("fill", phaseColour[p])
      .attr("opacity", 0.5)
      .style("font-size", "15.3px")
      .text(p);
  });

  // station label
  panel.append("text")
    .attr("x", margin.left + 0.01 * (W - margin.left - margin.right))
    .attr("y", pTop + 16)
    .style("font-size", fontSize + "px")
    .text(stationCodes[i] + " " + stationDist[i] + " " + stationNames[i]);

  /*
   * axes, ticks inward on all four sides
   */
  var xb = d3.axisBottom(x).tickValues(xTicks).tickSize(-4.5).tickPadding(6)
    .tickFormat(i == nPanels - 1 ? d3.format("d") : "");
  panel.append("g").attr("transform", "translate(0," + pBottom + ")").call(xb).call(styleAxis);

  var xt = d3.axisTop(x).tickValues(xTicks).tickSize(-4.5).tickFormat("");
  panel.append("g").attr("transform", "translate(0," + pTop + ")").call(xt).call(styleAxis);

  var yv = [-yTickStep[i], 0, yTickStep[i]];
  var yl = d3.axisLeft(y).tickValues(yv).tickSize(-4.5).tickPadding(6).tickFormat(sci);
  panel.append("g").attr("transform", "translate(" + margin.left + ",0)").call(yl).call(styleAxis);

  var yr = d3.axisRight(y).tickValues(yv).tickSize(-4.5).tickFormat("");
  panel.append("g").attr("transform", "translate(" + (W - margin.right) + ",0)").call(yr).call(styleAxis);

  panel.append("rect")
    .attr("x", margin.left).attr("y", pTop)
    .attr("width", W - margin.left - margin.right).attr("height", panelH)
    .attr("fill", "none").attr("stroke", "#000").attr("stroke-width", 1.1);
}

////////// Titles and labels
var titleLines = [
  "M5.6 211 km SSW of ʻOhonua, Tonga 2020-08-01 19:45:45.901000",
  "from the Raspberry Shake Network and BGS seismometers CCA1, HTL & DYA",
  "depth: 10.0 km, distance: 16882.0 km."
];
titleLines.forEach(function(t, k) {
  svg.append("text")
    .attr("x", W / 2).attr("y", 22 + k * 16.7)
    .attr("text-anchor", "middle")
    .style("font-size", fontSize + "px")
    .text(t);
});

svg.append("text")
  .attr("transform", "translate(22," + (H / 2) + ") rotate(-90)")
  .attr("text-anchor", "middle")
  .style("font-size", fontSize + "px")
  .text("Velocity [m/s]");

svg.append("text")
  .attr("x", W / 2).attr("y", 1085)
  .attr("text-anchor", "middle")
  .style("font-size", fontSize + "px")
  .text("Time since earthquake [s]");

svg.append("text")
  .attr("x", 19).attr("y", 1085)
  .style("font-size", fontSize + "px")
  .text('Channel: EHZ, filter: "bandpass", freqmin=1.3, freqmax=2.8, corners=4');

// hidden outer axes leaves small ticks on the left edge
[0.2, 0.4, 0.6, 0.8].forEach(function(f) {
  svg.append("line")
    .attr("x1", 0).attr("x2", 4.5)
    .attr("y1", H * f).attr("y2", H * f)
    .attr("stroke", "#000").attr("stroke-width", 1.1);
});

// first arrivals box
var legendX = 1521, legendY = 1056, legendStep = 13.4;
svg.append("text")
  .attr("x", legendX).attr("y", legendY)
  .style("font-size", fontSize + "px")
  .text("First Arrivals at " + arrivalStation);
arrivalNames.forEach(function(p, k) {
  svg.append("text")
    .attr("x", legendX).attr("y", legendY + (k + 1) * legendStep)
    .attr("fill", phaseColour[p])
    .style("font-size", fontSize + "px")
    .text(p + " time: " + arrivalTimes[k].toFixed(2) + "s");
});
</script>
</body>
</html>
